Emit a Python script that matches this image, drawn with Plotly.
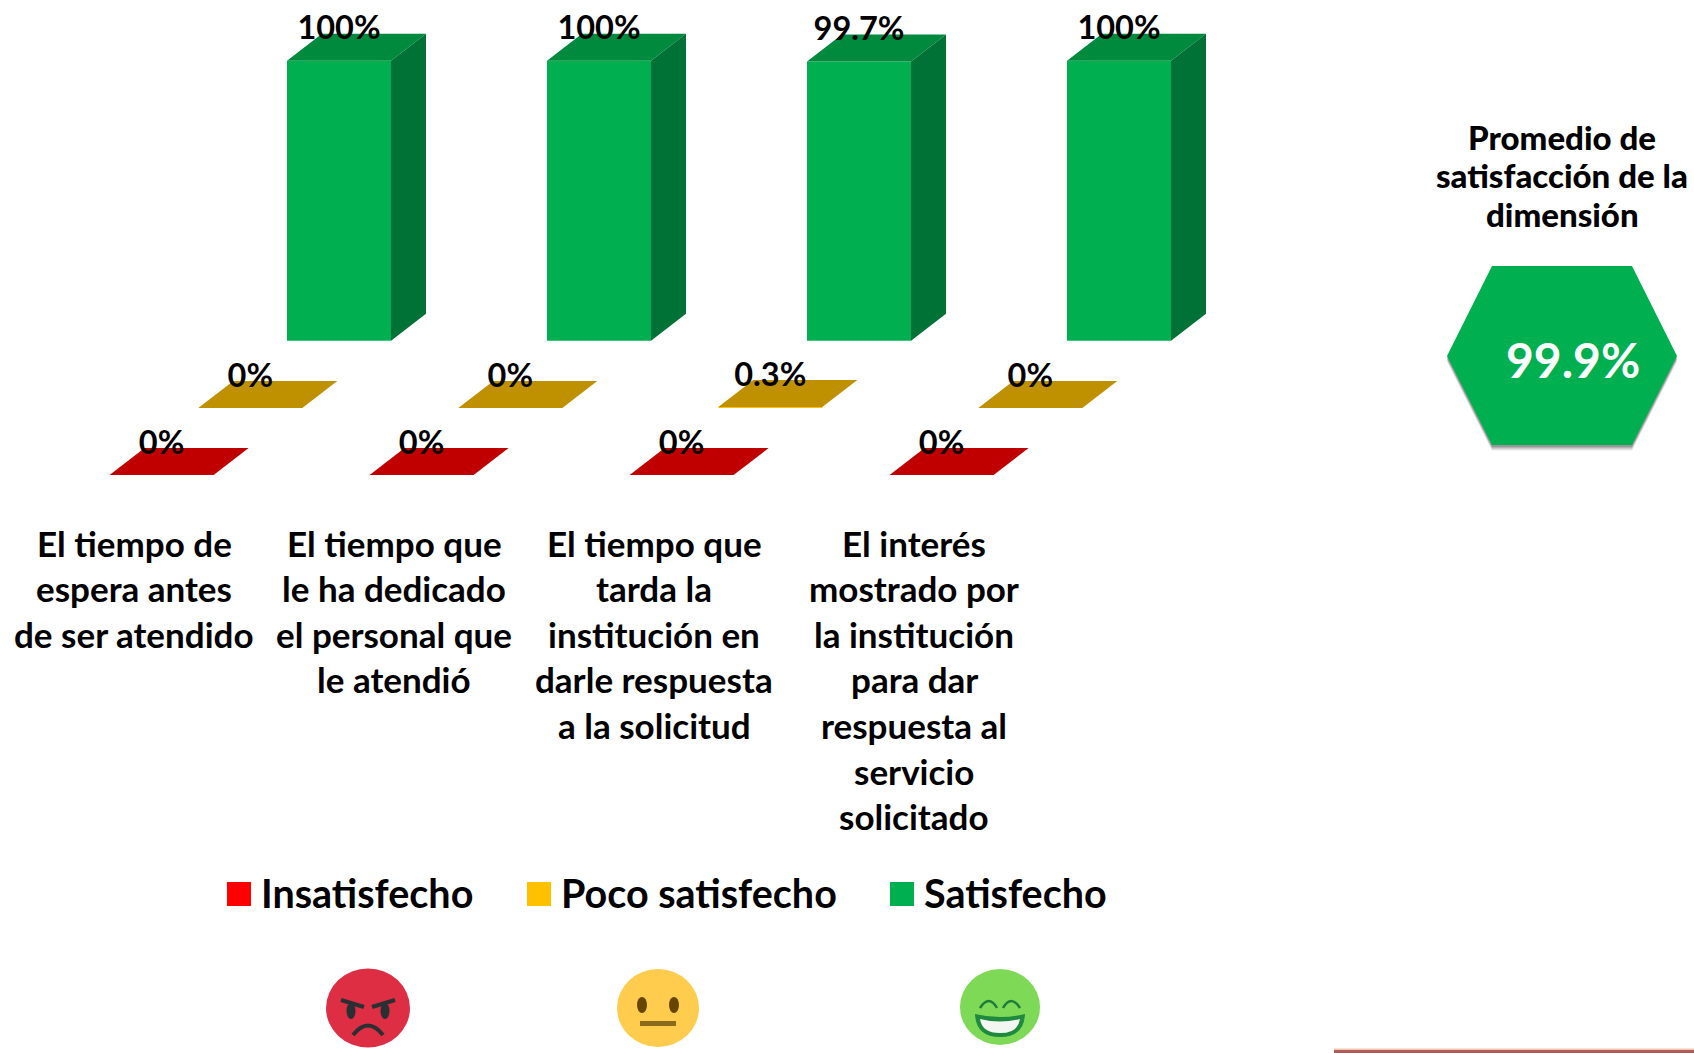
import plotly.graph_objects as go

# valores
categorias = [
    ["El tiempo de", "espera antes", "de ser atendido"],
    ["El tiempo que", "le ha dedicado", "el personal que", "le atendió"],
    ["El tiempo que", "tarda la", "institución en", "darle respuesta", "a la solicitud"],
    ["El interés", "mostrado por", "la institución", "para dar", "respuesta al", "servicio", "solicitado"],
]
series = ["Insatisfecho", "Poco satisfecho", "Satisfecho"]
insatisfecho = [0, 0, 0, 0]
poco_satisfecho = [0, 0, 0.3, 0]
satisfecho = [100, 100, 99.7, 100]
etiquetas_insatisfecho = ["0%", "0%", "0%", "0%"]
etiquetas_poco = ["0%", "0%", "0.3%", "0%"]
etiquetas_satisfecho = ["100%", "100%", "99.7%", "100%"]
promedio = "99.9%"
titulo_promedio = ["Promedio de", "satisfacción de la", "dimensión"]

W, H = 1694, 1053
FONT = "Lato"

# escalas: una categoria son 260 px, 100 % son 280 px
PX_CAT = 260
PX_PCT = 2.8
X0, Y0 = 339, 340.7
ANCHO = 104 / PX_CAT
FONDO_X, FONDO_Y = 35 / PX_CAT, 27 / PX_PCT
PASO_X, PASO_Y = 88.7 / PX_CAT, 67.2 / PX_PCT
ETIQUETA_Y = 29.5 / PX_PCT

frente = ["#FF0000", "#FFC000", "#00B050"]
arriba = ["#C00000", "#BF9000", "#008A3E"]
lado = ["#900000", "#8F6C00", "#007236"]
leyenda = ["#FF0000", "#FFC000", "#00B050"]

fig = go.Figure()


def cara(xs, ys, color):
    fig.add_trace(
        go.Scatter(
            x=xs, y=ys, mode="lines", fill="toself", fillcolor=color,
            line=dict(width=0, color=color), showlegend=False, hoverinfo="skip",
        )
    )


def plot_serie(s, valores, etiquetas):
    dx = (s - 2) * PASO_X
    dy = (s - 2) * PASO_Y
    for i, v in enumerate(valores):
        x1 = i + dx - ANCHO / 2
        x2 = i + dx + ANCHO / 2
        base = dy
        tope = dy + v
        cara(
            [x1, x2, x2 + FONDO_X, x1 + FONDO_X, x1],
            [tope, tope, tope + FONDO_Y, tope + FONDO_Y, tope],
            arriba[s],
        )
        if v > 0:
            cara(
                [x2, x2 + FONDO_X, x2 + FONDO_X, x2, x2],
                [base, base + FONDO_Y, tope + FONDO_Y, tope, base],
                lado[s],
            )
    fig.add_trace(
        go.Bar(
            x=[i + dx for i in range(len(valores))],
            y=valores,
            base=dy,
            width=ANCHO,
            marker=dict(color=frente[s], line=dict(width=0)),
            showlegend=False,
            hoverinfo="skip",
        )
    )
    fig.add_trace(
        go.Scatter(
            x=[i + dx for i in range(len(valores))],
            y=[v + dy + ETIQUETA_Y for v in valores],
            mode="text",
            text=etiquetas,
            textposition="middle center",
            textfont=dict(family=FONT, size=32.5, color="black", weight=700),
            showlegend=False,
            hoverinfo="skip",
        )
    )


plot_serie(0, insatisfecho, etiquetas_insatisfecho)
plot_serie(1, poco_satisfecho, etiquetas_poco)
plot_serie(2, satisfecho, etiquetas_satisfecho)

# capa en pixeles para lo que no es dato
fig.add_trace(go.Scatter(x=[], y=[], xaxis="x2", yaxis="y2", showlegend=False))


def texto(x, y, t, size, color="black", anchor="center", peso=700):
    fig.add_annotation(
        x=x, y=y, xref="x2", yref="y2", text=t, showarrow=False, xanchor=anchor, yanchor="middle",
        font=dict(family=FONT, size=size, color=color, weight=peso),
    )


def forma(path, fill=None, linea=None, ancho=0, opacidad=1):
    fig.add_shape(
        type="path", path=path, xref="x2", yref="y2", fillcolor=fill, opacity=opacidad,
        line=dict(color=linea, width=ancho),
    )


def elipse(cx, cy, rx, ry, fill):
    fig.add_shape(
        type="circle", xref="x2", yref="y2", x0=cx - rx, x1=cx + rx, y0=cy - ry, y1=cy + ry,
        fillcolor=fill, line=dict(width=0),
    )


# textos de categoria, una linea cada vez
for i, lineas in enumerate(categorias):
    for j, linea in enumerate(lineas):
        texto(134 + PX_CAT * i, 542.5 + 45.6 * j, linea, 35)

# leyenda
for nombre, color, xc, xt in zip(series, leyenda, [227, 527, 890], [259, 559, 922]):
    fig.add_shape(type="rect", xref="x2", yref="y2", x0=xc, x1=xc + 24, y0=882, y1=906,
                  fillcolor=color, line=dict(width=0))
    texto(xt, 892, nombre, 39.5, anchor="left")

# hexagono del promedio
HEX = "M{l},{m} L{a},{t} L{b},{t} L{r},{m} L{b},{d} L{a},{d} Z"
for off, op in [(6, 0.06), (5, 0.1), (4, 0.14), (3, 0.18), (2, 0.25)]:
    forma(HEX.format(l=1447, a=1492, b=1632, r=1677,
                     t=266 + off, m=356 + off, d=445 + off), fill="#444444", opacidad=op)
forma(HEX.format(l=1447, a=1492, b=1632, r=1677, t=266, m=356, d=445), fill="#00B050")
texto(1573, 359, promedio, 48, color="white")
for j, linea in enumerate(titulo_promedio):
    texto(1562, 136.5 + 38.5 * j, linea, 33, peso=900)

# caritas
cx, cy = 368, 1008
elipse(cx, cy, 42, 39.5, "#DD2E44")
for s in (-1, 1):
    forma(f"M{cx + s * 27},{cy - 8} L{cx + s * 4},{cy - 1}", linea="#292F33", ancho=4)
    elipse(cx + s * 17, cy + 3, 4.5, 8, "#292F33")
forma(f"M{cx - 15},{cy + 27} Q{cx},{cy + 8} {cx + 15},{cy + 27}", linea="#292F33", ancho=4)

cx, cy = 658, 1008
elipse(cx, cy, 41, 39, "#FFCC4D")
for s in (-1, 1):
    elipse(cx + s * 16, cy - 3, 5, 8, "#664500")
fig.add_shape(type="rect", xref="x2", yref="y2", x0=cx - 18, x1=cx + 18, y0=cy + 13, y1=cy + 18,
              fillcolor="#8A6A1C", line=dict(width=0))

cx, cy = 1000, 1007
elipse(cx, cy, 40, 38, "#7ED957")
for s in (-1, 1):
    forma(f"M{cx + s * 20},{cy + 1} Q{cx + s * 11},{cy - 13} {cx + s * 3},{cy + 1}", linea="#1E7B3A", ancho=2.5)
forma(f"M{cx - 25},{cy + 7} Q{cx},{cy + 13} {cx + 25},{cy + 7} Q{cx + 24},{cy + 30} {cx},{cy + 30} Q{cx - 24},{cy + 30} {cx - 25},{cy + 7} Z",
      fill="#1E8A3E")
forma(f"M{cx - 20},{cy + 12} Q{cx},{cy + 17} {cx + 20},{cy + 12} Q{cx + 18},{cy + 26} {cx},{cy + 26} Q{cx - 18},{cy + 26} {cx - 20},{cy + 12} Z",
      fill="#F2F7F2")

# franja inferior derecha
fig.add_shape(type="rect", xref="x2", yref="y2", x0=1334, x1=W, y0=1048.5, y1=1050, fillcolor="#F0C8B0", line=dict(width=0))
fig.add_shape(type="rect", xref="x2", yref="y2", x0=1334, x1=W, y0=1050, y1=H, fillcolor="#B05A5A", line=dict(width=0))

oculto = dict(visible=False, showgrid=False, zeroline=False, fixedrange=True)
fig.update_layout(
    width=W,
    height=H,
    margin=dict(l=0, r=0, t=0, b=0),
    paper_bgcolor="white",
    plot_bgcolor="white",
    barmode="overlay",
    hovermode=False,
    showlegend=False,
    xaxis=dict(range=[-X0 / PX_CAT, (W - X0) / PX_CAT], domain=[0, 1], **oculto),
    yaxis=dict(range=[(Y0 - H) / PX_PCT, Y0 / PX_PCT], domain=[0, 1], **oculto),
    xaxis2=dict(range=[0, W], domain=[0, 1], overlaying="x", anchor="y2", **oculto),
    yaxis2=dict(range=[H, 0], domain=[0, 1], overlaying="y", anchor="x2", **oculto),
)

fig.write_html("out.html", post_script="document.body.style.margin='0';", config=dict(displayModeBar=False))
